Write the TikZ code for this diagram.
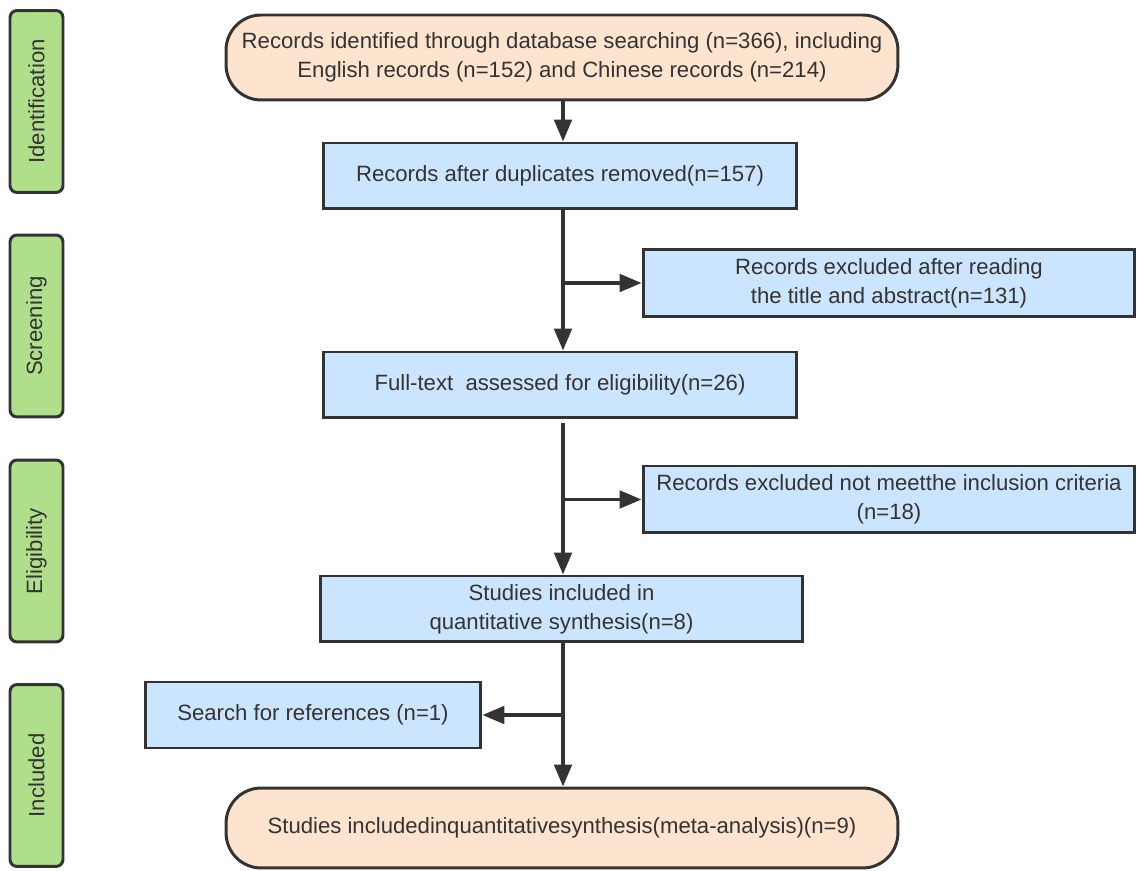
\documentclass[tikz,border=0pt]{standalone}
\usepackage{fontspec}
\setmainfont{Liberation Sans}
\usetikzlibrary{arrows.meta, positioning, calc}
\definecolor{peach}{RGB}{253,228,206}
\definecolor{paleblue}{RGB}{204,229,255}
\definecolor{leafgreen}{RGB}{176,223,140}
\definecolor{ink}{RGB}{51,51,51}

\begin{document}
\begin{tikzpicture}[x=0.02cm, y=-0.02cm, >={Triangle[length=12.5pt, width=10pt]},
    font=\fontsize{12.6}{16.5}\selectfont, text=ink,
    stage/.style={draw=ink, line width=1.7pt, fill=leafgreen, rounded corners=4pt, rotate=90,
        minimum width=3.64cm, minimum height=1.06cm, inner sep=0pt},
    endbox/.style={draw=ink, line width=1.7pt, fill=peach, rounded corners=20pt, align=center,
        minimum width=13.44cm, inner sep=0pt},
    stepbox/.style={draw=ink, line width=1.7pt, fill=paleblue, align=center, minimum height=1.32cm, inner sep=0pt},
    flow/.style={draw=ink, line width=1.9pt}]
    \useasboundingbox (0,0) rectangle (1137,871);

    % phases on the left
    \node[stage] (ident) at (36.5, 101.5) {Identification};
    \node[stage] (screen) at (36.5, 326) {Screening};
    \node[stage] (elig) at (36.5, 551) {Eligibility};
    \node[stage] (incl) at (36.5, 775.5) {Included};

    % main flow
    \node[endbox, minimum height=1.7cm] (found) at (562, 57.5) {Records identified through database searching (n=366), including\\English records (n=152) and Chinese records (n=214)};
    \node[stepbox, minimum width=9.48cm] (dedup) at (560, 176) {Records after duplicates removed(n=157)};
    \node[stepbox, minimum width=9.84cm, minimum height=1.34cm] (excA) at (889, 283) {Records excluded after reading\\the title and abstract(n=131)};
    \node[stepbox, minimum width=9.48cm] (fulltext) at (560, 385) {Full-text\ \ assessed for eligibility(n=26)};
    \node[stepbox, minimum width=9.84cm, minimum height=1.34cm] (excB) at (889, 499.5) {Records excluded not meetthe inclusion criteria\\(n=18)};
    \node[stepbox, minimum width=9.66cm] (quant) at (561.5, 609) {Studies included in\\quantitative synthesis(n=8)};
    \node[stepbox, minimum width=6.72cm] (refs) at (313, 715) {Search for references (n=1)};
    \node[endbox, minimum height=1.6cm] (meta) at (562, 828) {Studies includedinquantitativesynthesis(meta-analysis)(n=9)};

    \coordinate (trunk) at (563, 0);

    % connectors
    \draw[flow, ->] (trunk |- found.south) -- (trunk |- dedup.north);
    \draw[flow, ->] (trunk |- dedup.south) -- (trunk |- fulltext.north);
    \draw[flow, ->] (trunk |- excA.west) -- (excA.west);
    \draw[flow, ->] ($(trunk |- fulltext.south)+(0,4)$) -- (trunk |- quant.north);
    \draw[flow, ->] (trunk |- excB.west) -- (excB.west);
    \draw[flow, ->] (trunk |- quant.south) -- (trunk |- meta.north);
    \draw[flow, ->] (trunk |- refs.east) -- (refs.east);
\end{tikzpicture}
\end{document}
